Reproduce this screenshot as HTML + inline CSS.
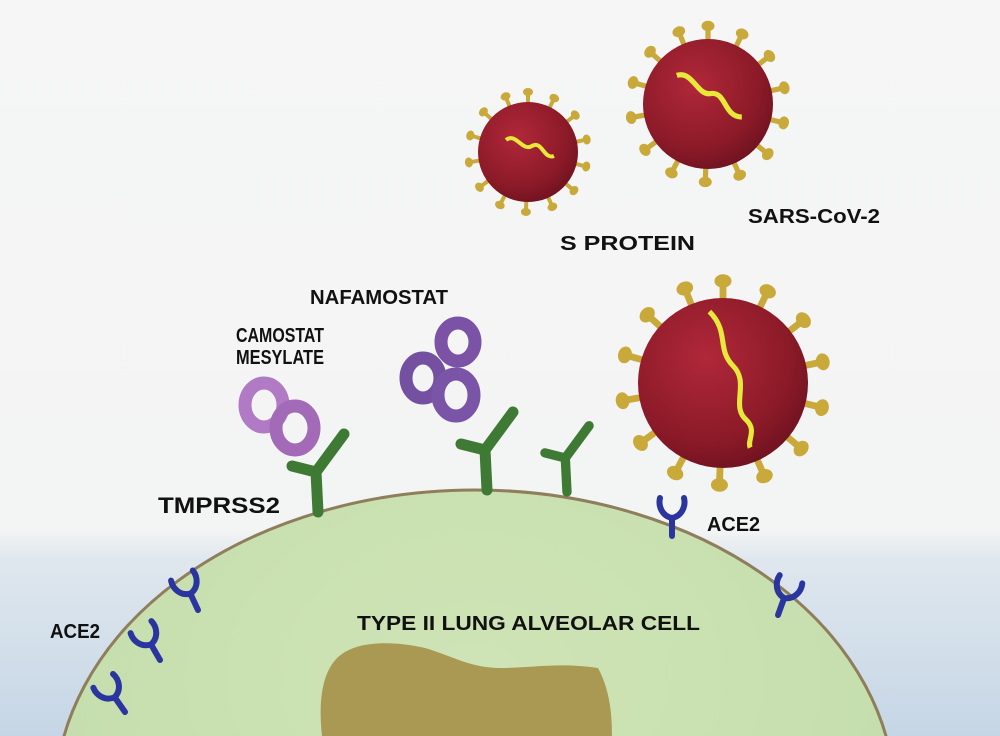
<!DOCTYPE html>
<html><head><style>
html,body{margin:0;width:1000px;height:736px;overflow:hidden;background:#f4f5f4}
svg{display:block}
text{font-family:"Liberation Sans",sans-serif;font-size:20px;fill:#111;font-weight:bold}
</style></head><body>
<svg width="1000" height="736" viewBox="0 0 1000 736">
<defs>
<linearGradient id="bg" x1="0" y1="0" x2="0" y2="1">
<stop offset="0" stop-color="#f5f6f5"/><stop offset="0.72" stop-color="#f3f4f4"/>
<stop offset="0.76" stop-color="#dfe7ee"/><stop offset="1" stop-color="#c6d6e6"/></linearGradient>
<radialGradient id="vr" cx="0.4" cy="0.35" r="0.7"><stop offset="0" stop-color="#b0283a"/><stop offset="0.7" stop-color="#8c1a28"/><stop offset="1" stop-color="#6e1220"/></radialGradient>
<radialGradient id="cell" cx="0.5" cy="0.3" r="0.7"><stop offset="0" stop-color="#cfe4b6"/><stop offset="1" stop-color="#c2dcaa"/></radialGradient>
<g id="ace"><path d="M0,0 L0,-18 M0,-18 C-10,-20 -14,-30 -12,-38 M0,-18 C10,-20 14,-30 12,-38" stroke="#2b35a0" stroke-width="6" fill="none" stroke-linecap="round"/></g>
<g id="tmp"><path d="M0,0 L-2,-40 M-2,-40 L-26,-46 M-2,-40 L26,-78" stroke="#3f7a34" stroke-width="11" fill="none" stroke-linecap="round"/></g>
<g id="sp"><path d="M0,-48 V-58" stroke="#c9a93a" stroke-width="4"/><ellipse cy="-60" rx="5" ry="4" fill="#c9a93a"/></g>
<g id="vir">
<use href="#sp"/><use href="#sp" transform="rotate(26)"/><use href="#sp" transform="rotate(52)"/><use href="#sp" transform="rotate(78)"/><use href="#sp" transform="rotate(104)"/><use href="#sp" transform="rotate(130)"/><use href="#sp" transform="rotate(156)"/><use href="#sp" transform="rotate(182)"/><use href="#sp" transform="rotate(208)"/><use href="#sp" transform="rotate(234)"/><use href="#sp" transform="rotate(260)"/><use href="#sp" transform="rotate(286)"/><use href="#sp" transform="rotate(312)"/><use href="#sp" transform="rotate(338)"/>
<circle r="50" fill="url(#vr)"/>
</g>
</defs>
<rect width="1000" height="736" fill="url(#bg)"/>
<ellipse cx="475" cy="800" rx="420" ry="310" fill="url(#cell)" stroke="#8f7e5c" stroke-width="3"/>
<path d="M322,736 C318,700 322,665 345,652 C365,640 400,642 425,648 C450,655 470,668 500,668 C530,668 560,662 598,668 C610,690 612,715 612,736 Z" fill="#a99953"/>
<use href="#tmp" x="318" y="512"/>
<use href="#tmp" x="487" y="490"/>
<g transform="translate(567,492) scale(0.85)"><use href="#tmp"/></g>
<g fill="none" stroke-width="13">
<ellipse cx="264" cy="405" rx="19" ry="22" stroke="#b07ac4"/>
<ellipse cx="295" cy="428" rx="19" ry="22" stroke="#a36ab8"/>
<ellipse cx="458" cy="342" rx="17" ry="19" stroke="#7b52a6"/>
<ellipse cx="423" cy="378" rx="17" ry="20" stroke="#7450a0"/>
<ellipse cx="456" cy="395" rx="18" ry="21" stroke="#7a54a6"/>
</g>
<use href="#ace" x="672" y="536"/>
<g transform="translate(778,615) rotate(20)"><use href="#ace"/></g>
<g transform="translate(198,610) rotate(-25)"><use href="#ace"/></g>
<g transform="translate(160,660) rotate(-30)"><use href="#ace"/></g>
<g transform="translate(125,712) rotate(-35)"><use href="#ace"/></g>
<g transform="translate(528,152)"><use href="#vir"/>
<path d="M-22,-12 C-12,-20 -6,0 4,-6 C14,-12 16,8 26,4" stroke="#e6e83a" stroke-width="4" fill="none"/></g>
<g transform="translate(708,104) scale(1.3)"><use href="#vir"/>
<path d="M-24,-22 C-12,-26 -8,-6 2,-8 C14,-10 12,10 26,10" stroke="#e6e83a" stroke-width="4" fill="none"/></g>
<g transform="translate(723,383) scale(1.7)"><use href="#vir"/>
<path d="M-8,-42 C4,-30 -4,-20 6,-10 C16,0 4,14 14,22 C20,28 14,34 16,38" stroke="#e6e83a" stroke-width="3" fill="none"/></g>
<text x="560" y="250" textLength="135" lengthAdjust="spacingAndGlyphs">S PROTEIN</text>
<text x="748" y="223" textLength="132" lengthAdjust="spacingAndGlyphs">SARS-CoV-2</text>
<text x="310" y="304" textLength="138" lengthAdjust="spacingAndGlyphs">NAFAMOSTAT</text>
<text x="236" y="342" textLength="88" lengthAdjust="spacingAndGlyphs">CAMOSTAT</text>
<text x="236" y="364" textLength="88" lengthAdjust="spacingAndGlyphs">MESYLATE</text>
<text x="158" y="513" textLength="122" lengthAdjust="spacingAndGlyphs" style="font-size:22px">TMPRSS2</text>
<text x="707" y="531" textLength="53" lengthAdjust="spacingAndGlyphs">ACE2</text>
<text x="50" y="638" textLength="50" lengthAdjust="spacingAndGlyphs">ACE2</text>
<text x="357" y="630" textLength="343" lengthAdjust="spacingAndGlyphs">TYPE II LUNG ALVEOLAR CELL</text>
</svg>
</body></html>
